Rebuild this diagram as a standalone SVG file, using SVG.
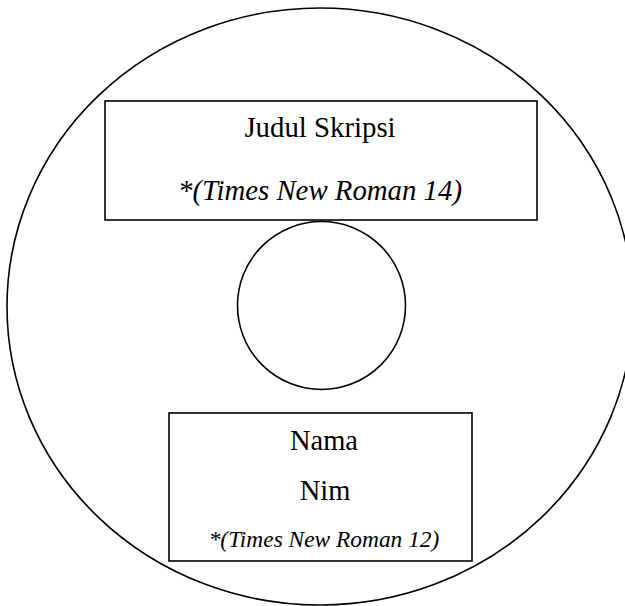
<svg xmlns="http://www.w3.org/2000/svg" width="625" height="606" viewBox="0 0 625 606">
<style>
.ln{fill:none;stroke:#000;stroke-width:1.6}
.t{font-family:"Liberation Serif","Times New Roman",serif;fill:#000;text-anchor:middle}
.i{font-style:italic}
</style>
<rect width="625" height="606" fill="#fff"/>
<g id="disc"><ellipse class="ln" cx="320" cy="306.5" rx="313" ry="298.5"/></g>
<g id="hole"><circle class="ln" cx="321.5" cy="305.5" r="84"/></g>
<g id="title-box">
<rect class="ln" x="105" y="101" width="432" height="119" fill="#fff"/>
<text class="t" x="320" y="137" font-size="28.8">Judul Skripsi</text>
<text class="t i" x="320" y="200" font-size="28.8">*(Times New Roman 14)</text>
</g>
<g id="name-box">
<rect class="ln" x="169" y="413" width="303" height="148" fill="#fff"/>
<text class="t" x="324" y="450" font-size="28.5">Nama</text>
<text class="t" x="325" y="500" font-size="28.5">Nim</text>
<text class="t i" x="324" y="547" font-size="23.4">*(Times New Roman 12)</text>
</g>
<g id="connectors"></g>
</svg>
